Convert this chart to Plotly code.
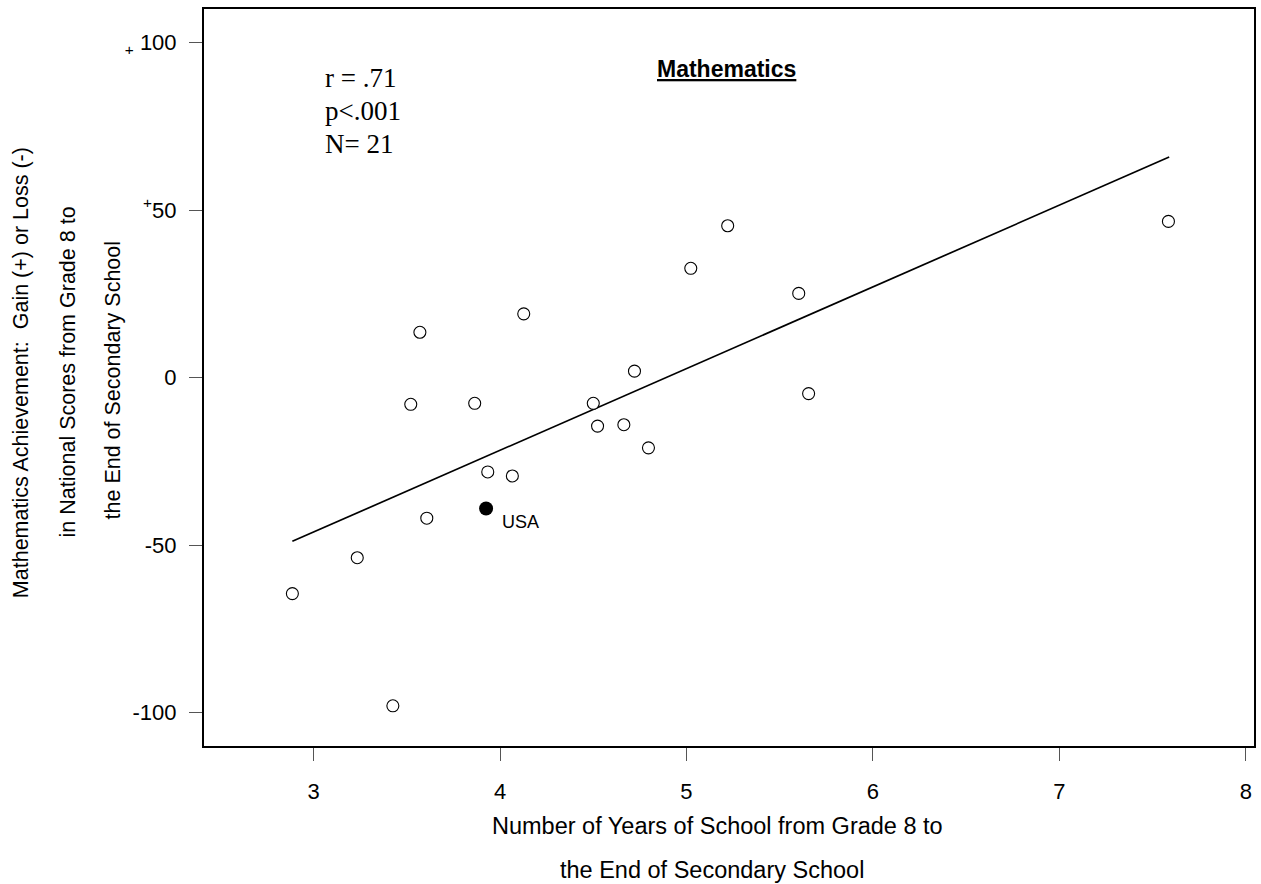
import plotly.graph_objects as go

# Data
years = [2.886, 3.234, 3.425, 3.521, 3.570, 3.607, 3.864, 3.934, 4.066, 4.127,
         4.500, 4.523, 4.664, 4.721, 4.796, 5.023, 5.221, 5.602, 5.655, 7.585]
gain = [-64.5, -53.8, -98.0, -8.0, 13.5, -42.0, -7.7, -28.2, -29.4, 19.0,
        -7.7, -14.5, -14.1, 1.9, -21.0, 32.6, 45.3, 25.1, -4.8, 46.6]
usa_years = [3.925]
usa_gain = [-39.1]
usa_label = "USA"
fit_x = [2.886, 7.589]
fit_y = [-48.9, 65.8]

x_ticks = [3, 4, 5, 6, 7, 8]
y_ticks = [-100, -50, 0, 50, 100]
y_ticktext = ["-100", "-50", "0", "<sup>+</sup>50", "<sub>+</sub> 100"]

stats_lines = ["r = .71", "p<.001", "N= 21"]
panel_title = "Mathematics"
x_title_lines = ["Number of Years of School from Grade 8 to",
                 "the End of Secondary School"]
y_title_lines = ["Mathematics Achievement:  Gain (+) or Loss (-)",
                 "in National Scores from Grade 8 to",
                 "the End of Secondary School"]

SANS = "Arial, Liberation Sans, sans-serif"
SERIF = "Times New Roman, Liberation Serif, serif"

fig = go.Figure()
fig.add_trace(go.Scatter(x=fit_x, y=fit_y, mode="lines",
                         line=dict(color="black", width=1.7),
                         showlegend=False, hoverinfo="skip"))
fig.add_trace(go.Scatter(x=years, y=gain, mode="markers",
                         marker=dict(symbol="circle", size=12, color="white",
                                     line=dict(color="black", width=1.1)),
                         showlegend=False))
fig.add_trace(go.Scatter(x=usa_years, y=usa_gain, mode="markers",
                         marker=dict(symbol="circle", size=14, color="black",
                                     line=dict(width=0)),
                         showlegend=False))

annotations = []
annotations.append(dict(x=usa_years[0], y=usa_gain[0], xref="x", yref="y",
                        text=usa_label, showarrow=False, xanchor="left",
                        yanchor="middle", xshift=14, yshift=-14,
                        font=dict(family=SANS, size=18, color="black")))
for txt, yy in zip(stats_lines, [0.907, 0.862, 0.8175]):
    annotations.append(dict(x=0.1135, y=yy, xref="paper", yref="paper",
                            text=txt, showarrow=False, xanchor="left",
                            yanchor="middle",
                            font=dict(family=SERIF, size=27, color="black")))
annotations.append(dict(x=0.498, y=0.918, xref="paper", yref="paper",
                        text="<b><u>" + panel_title + "</u></b>", showarrow=False,
                        xanchor="center", yanchor="middle",
                        font=dict(family=SANS, size=23, color="black")))
for txt, xx, yy in zip(x_title_lines, [0.4888, 0.484], [-0.109, -0.1686]):
    annotations.append(dict(x=xx, y=yy, xref="paper", yref="paper", text=txt,
                            showarrow=False, xanchor="center", yanchor="middle",
                            font=dict(family=SANS, size=23.5, color="black")))
for txt, xx, yy in zip(y_title_lines, [-0.1735, -0.1297, -0.0869], [0.507, 0.508, 0.497]):
    annotations.append(dict(x=xx, y=yy, xref="paper", yref="paper", text=txt,
                            textangle=-90, showarrow=False, xanchor="center",
                            yanchor="middle",
                            font=dict(family=SANS, size=21.5, color="black")))

fig.update_layout(
    width=1261, height=884,
    margin=dict(l=204, r=5, t=9, b=138),
    paper_bgcolor="white", plot_bgcolor="white",
    font=dict(family=SANS, size=22, color="black"),
    annotations=annotations,
    xaxis=dict(range=[2.412, 8.044], tickvals=x_ticks,
               ticktext=[str(v) for v in x_ticks],
               ticks="outside", ticklen=13, tickwidth=1, tickcolor="#555",
               ticklabelstandoff=12,
               showgrid=False, zeroline=False, showline=True, linecolor="black",
               linewidth=2, mirror=True, tickfont=dict(size=22)),
    yaxis=dict(range=[-110, 110], tickvals=y_ticks, ticktext=y_ticktext,
               ticks="outside", ticklen=13, tickwidth=1, tickcolor="#555",
               ticklabelstandoff=8,
               showgrid=False, zeroline=False, showline=True, linecolor="black",
               linewidth=2, mirror=True, tickfont=dict(size=22)),
)

fig.write_html("out.html", config={"displayModeBar": False},
               post_script="document.body.style.margin='0';document.body.style.overflow='hidden';")
